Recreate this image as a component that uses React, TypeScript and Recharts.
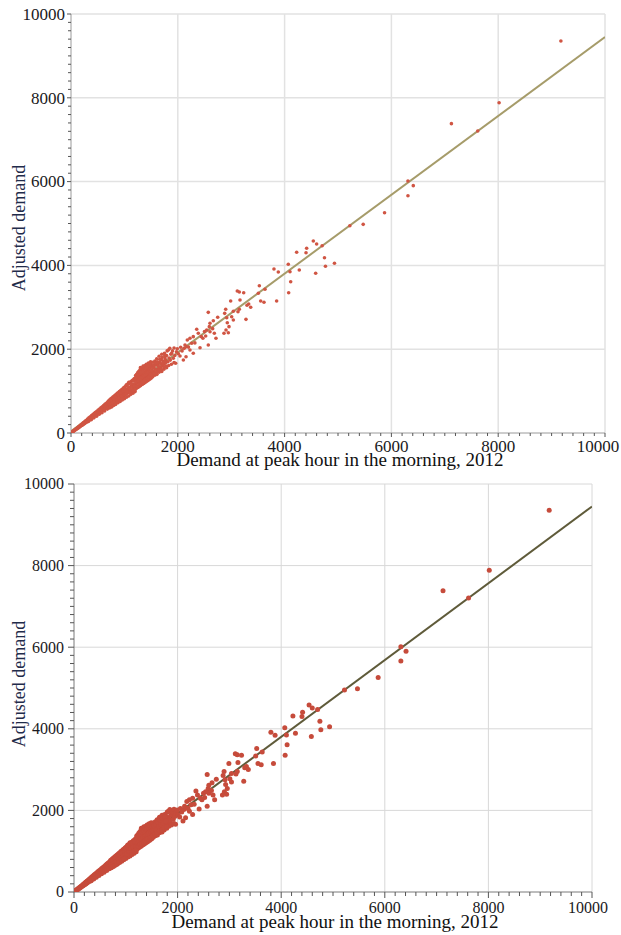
import { Label, ReferenceLine, Scatter, ScatterChart, XAxis, YAxis } from 'recharts'

const majorTicks = [0, 2000, 4000, 6000, 8000, 10000]
const minorStep = 200
const minorTicks = Array.from({ length: 51 }, (_, i) => i * minorStep)

const xTitle = 'Demand at peak hour in the morning, 2012'
const yTitle = 'Adjusted demand'

// [demand 2012, adjusted demand]
const originBand = [
  [15, 14], [25, 26], [30, 24], [40, 42], [50, 45], [55, 56], [65, 60], [75, 78], [80, 70], [90, 92],
  [100, 88], [105, 108], [115, 104], [125, 130], [130, 116], [140, 142], [150, 134], [155, 160], [165, 148],
  [175, 182], [180, 160], [190, 196], [200, 178], [205, 214], [215, 192], [225, 238], [230, 205], [240, 250],
  [250, 222], [255, 270], [265, 236], [275, 290], [280, 250], [290, 305], [300, 262],
  [310, 332], [335, 360], [360, 385], [385, 414], [410, 440], [435, 468], [460, 494], [485, 520], [510, 548],
  [535, 574], [560, 602], [585, 626], [610, 654], [635, 684], [660, 708], [685, 736],
  [320, 312], [345, 334], [370, 360], [395, 382], [420, 410], [445, 430], [470, 458], [495, 478], [520, 506],
  [545, 528], [570, 554], [595, 576], [620, 602], [645, 624], [670, 652], [695, 672],
  [315, 282], [340, 308], [365, 326], [390, 352], [415, 372], [440, 398], [465, 418], [490, 442], [515, 462],
  [540, 488], [565, 506], [590, 532], [615, 552], [640, 578], [665, 596], [690, 622],
  [330, 278], [380, 318], [430, 362], [480, 402], [530, 446], [580, 486], [630, 528], [680, 570],
]

const lowBand = [
  [705, 770], [725, 790], [745, 815], [765, 832], [785, 858], [805, 878], [825, 902], [845, 920], [865, 946],
  [885, 962], [905, 990], [925, 1006], [945, 1034], [965, 1050], [985, 1078], [1005, 1094], [1025, 1122],
  [1045, 1136], [1065, 1166], [1085, 1180], [1105, 1210], [1125, 1226], [1145, 1254], [1165, 1268], [1185, 1300],
  [710, 702], [730, 724], [750, 740], [770, 764], [790, 780], [810, 804], [830, 820], [850, 844], [870, 860],
  [890, 884], [910, 900], [930, 924], [950, 940], [970, 964], [990, 978], [1010, 1004], [1030, 1018],
  [1050, 1044], [1070, 1058], [1090, 1082], [1110, 1098], [1130, 1122], [1150, 1136], [1170, 1160], [1190, 1176],
  [715, 646], [735, 660], [755, 682], [775, 696], [795, 718], [815, 732], [835, 754], [855, 768], [875, 790],
  [895, 804], [915, 826], [935, 840], [955, 862], [975, 876], [995, 898], [1015, 912], [1035, 934], [1055, 948],
  [1075, 970], [1095, 984], [1115, 1006], [1135, 1020], [1155, 1042], [1175, 1056], [1195, 1078],
  [720, 596], [760, 622], [800, 660], [840, 690], [880, 724], [920, 752], [960, 790], [1000, 820], [1040, 856],
  [1080, 884], [1120, 922], [1160, 950], [1200, 988],
  [708, 735], [722, 672], [738, 620], [752, 775], [768, 708], [782, 650], [798, 812], [812, 745], [828, 680],
  [842, 860], [858, 790], [872, 735], [888, 905], [902, 830], [918, 775], [932, 955], [948, 875], [962, 810],
  [978, 1000], [992, 920],
]

const upperBand = [
  [1210, 1370], [1230, 1400], [1250, 1440], [1270, 1470], [1290, 1500], [1300, 1560], [1320, 1530],
  [1340, 1560], [1350, 1600], [1370, 1590], [1390, 1610], [1410, 1640], [1430, 1620], [1450, 1670],
  [1470, 1660], [1490, 1700],
  [1205, 1270], [1225, 1290], [1245, 1310], [1265, 1334], [1285, 1350], [1305, 1374], [1325, 1392],
  [1345, 1414], [1365, 1436], [1385, 1454], [1405, 1476], [1425, 1500], [1445, 1516], [1465, 1540], [1485, 1558],
  [1215, 1170], [1235, 1186], [1255, 1208], [1275, 1222], [1295, 1244], [1315, 1260], [1335, 1282],
  [1355, 1298], [1375, 1320], [1395, 1336], [1415, 1358], [1435, 1374], [1455, 1396], [1475, 1412], [1495, 1434],
  [1220, 1060], [1240, 1080], [1260, 1094], [1280, 1114], [1300, 1130], [1320, 1150], [1340, 1164],
  [1360, 1184], [1380, 1198], [1400, 1218], [1420, 1234], [1440, 1254], [1460, 1270], [1480, 1290], [1500, 1306],
  [1008, 1052], [1022, 936], [1038, 1150], [1052, 1000], [1068, 990], [1082, 1210], [1098, 1060], [1112, 960],
  [1128, 1180], [1142, 1098], [1158, 1005], [1172, 1250], [1188, 1118], [1202, 1040], [1218, 1330],
  [1228, 1232], [1242, 1120], [1258, 1382], [1262, 1250], [1278, 1170], [1288, 1420], [1298, 1290],
  [1312, 1190], [1318, 1458], [1328, 1330], [1342, 1222], [1348, 1500], [1362, 1360], [1372, 1250],
  [1378, 1530], [1392, 1392], [1402, 1282], [1408, 1560], [1418, 1420], [1432, 1300], [1438, 1590],
  [1448, 1452], [1462, 1330], [1468, 1610], [1478, 1480], [1492, 1350], [1498, 1640],
]

const upperTail = [
  [1510, 1600], [1520, 1420], [1530, 1690], [1545, 1470], [1555, 1560], [1570, 1720], [1580, 1450],
  [1590, 1620], [1605, 1770], [1615, 1500], [1625, 1650], [1640, 1540], [1650, 1830], [1660, 1690],
  [1675, 1560], [1690, 1750], [1700, 1880], [1710, 1600], [1725, 1720], [1740, 1640], [1750, 1900],
  [1760, 1790], [1775, 1680], [1790, 1850], [1800, 1960], [1815, 1700], [1823, 1981], [1835, 1790],
  [1850, 2020], [1860, 1740], [1870, 1880], [1885, 1902], [1900, 1960], [1916, 1783], [1930, 2030],
  [1945, 1850], [1960, 1663], [1975, 1940],
  [1530, 1340], [1570, 1380], [1610, 1400], [1650, 1450], [1700, 1470], [1740, 1520], [1790, 1560],
  [1830, 1610], [1880, 1640], [1930, 1680],
  [1512, 1500], [1522, 1380], [1535, 1560], [1548, 1620], [1562, 1420], [1575, 1660], [1588, 1520],
  [1602, 1460], [1618, 1700], [1632, 1600], [1648, 1500], [1662, 1760], [1678, 1650], [1692, 1520],
  [1705, 1800], [1722, 1680], [1738, 1580], [1755, 1840], [1770, 1740], [1785, 1600],
]

const scatterMid = [
  [1990, 2010], [2010, 1890], [2041, 1838], [2054, 2045], [2080, 1960], [2104, 1742], [2120, 2020],
  [2135, 2100], [2154, 1821], [2166, 2060], [2178, 2220], [2200, 2050], [2228, 2260], [2228, 1981],
  [2260, 2141], [2290, 2299], [2290, 1902], [2320, 2150], [2354, 2475], [2384, 2379], [2416, 2036],
  [2440, 2300], [2470, 2260], [2500, 2420], [2522, 2315], [2541, 2458], [2571, 2880], [2571, 2100],
  [2590, 2538], [2603, 2618], [2603, 2418], [2653, 2490], [2665, 2680], [2684, 2379], [2715, 2260],
  [2747, 2761], [2865, 2379], [2878, 2856], [2897, 2952], [2903, 2458], [2916, 2752], [2927, 2633],
  [2946, 2394], [2959, 2538], [2990, 3150], [3009, 2776], [3040, 2904], [3040, 2697], [3114, 3389],
  [3127, 2895], [3152, 3365], [3152, 2952], [3165, 3174], [3234, 3349], [3277, 2713], [3296, 3048],
  [3328, 3079], [3365, 3000],
]

const scatterHigh = [
  [3508, 3334], [3527, 3516], [3552, 3150], [3614, 3119], [3633, 3429], [3801, 3914], [3851, 3150],
  [3882, 3842], [4069, 4026], [4076, 3349], [4101, 3850], [4114, 3611], [4226, 4313], [4275, 3890],
  [4401, 4303], [4413, 4408], [4538, 4582], [4582, 3811], [4600, 4511], [4703, 4470], [4747, 4184],
  [4765, 3978], [4934, 4050], [5222, 4948], [5472, 4980], [5872, 5258], [6310, 6014], [6410, 5903],
  [6310, 5664], [7124, 7383], [7617, 7208], [8017, 7883], [9174, 9356],
]

const fitX = [0, 10000]
const fitY = [40, 9450]

const toPoints = (rows: number[][]) => rows.map(([x, y]) => ({ x, y }))
const demandData = [originBand, lowBand, upperBand, upperTail, scatterMid, scatterHigh].flatMap(toPoints)
const fitData = fitX.map((x, i) => ({ x, y: fitY[i] }))

const serif = '"Liberation Serif", "Times New Roman", serif'

type PanelProps = {
  height: number
  yAxisWidth: number
  right: number
  xAxisHeight: number
  tickFont: number
  xLabelGap: number
  yLabelGap: number
  lastShift: number
  majorLen: number
  minorLen: number
  axisColor: string
  gridColor: string
  gridWidth: number
  dotColor: string
  dotR: number
  fitColor: string
  xTitleBase: number
  yTitleShift: number
}

const DemandPanel = (p: PanelProps) => {
  const XTick = (t: any) => {
    const v = t.payload.value
    const major = majorTicks.includes(v)
    const shift = v === 10000 ? p.lastShift : 0
    return (
      <g>
        <line x1={t.x} x2={t.x} y1={t.y} y2={t.y + (major ? p.majorLen : p.minorLen)} stroke="#555" strokeWidth={1} />
        {major && (
          <text x={t.x + shift} y={t.y + p.xLabelGap} textAnchor="middle" fontFamily={serif} fontSize={p.tickFont} fill="#1a1a22">
            {v}
          </text>
        )}
      </g>
    )
  }

  const YTick = (t: any) => {
    const v = t.payload.value
    const major = majorTicks.includes(v)
    return (
      <g>
        <line x1={t.x} x2={t.x - (major ? p.majorLen : p.minorLen)} y1={t.y} y2={t.y} stroke="#555" strokeWidth={1} />
        {major && (
          <text x={t.x - p.yLabelGap} y={t.y + p.tickFont * 0.34} textAnchor="end" fontFamily={serif} fontSize={p.tickFont} fill="#1a1a22">
            {v}
          </text>
        )}
      </g>
    )
  }

  return (
    <ScatterChart width={621} height={p.height} margin={{ top: 14, right: p.right, left: 0, bottom: 0 }}>
      {majorTicks.slice(1).map((t) => (
        <ReferenceLine key={`gx${t}`} x={t} stroke={p.gridColor} strokeWidth={p.gridWidth} />
      ))}
      {majorTicks.slice(1).map((t) => (
        <ReferenceLine key={`gy${t}`} y={t} stroke={p.gridColor} strokeWidth={p.gridWidth} />
      ))}
      <XAxis
        type="number"
        dataKey="x"
        domain={[0, 10000]}
        ticks={minorTicks}
        interval={0}
        tickSize={0}
        tickMargin={0}
        tickLine={false}
        axisLine={{ stroke: p.axisColor, strokeWidth: 1 }}
        height={p.xAxisHeight}
        tick={(t: any) => <XTick {...t} />}
        allowDataOverflow
      >
        <Label
          content={({ viewBox }: any) => (
            <text
              x={viewBox.x + viewBox.width / 2 + 2}
              y={viewBox.y + p.xTitleBase}
              textAnchor="middle"
              fontFamily={serif}
              fontSize={19}
              fill="#111"
            >
              {xTitle}
            </text>
          )}
        />
      </XAxis>
      <YAxis
        type="number"
        dataKey="y"
        domain={[0, 10000]}
        ticks={minorTicks}
        interval={0}
        tickSize={0}
        tickMargin={0}
        tickLine={false}
        axisLine={{ stroke: p.axisColor, strokeWidth: 1 }}
        width={p.yAxisWidth}
        tick={(t: any) => <YTick {...t} />}
        allowDataOverflow
      >
        <Label
          content={({ viewBox }: any) => {
            const cx = 18.5
            const cy = viewBox.y + viewBox.height / 2 + p.yTitleShift
            return (
              <text
                x={cx}
                y={cy}
                transform={`rotate(-90 ${cx} ${cy})`}
                textAnchor="middle"
                dominantBaseline="central"
                fontFamily={serif}
                fontSize={18}
                fill="#1f2b4a"
              >
                {yTitle}
              </text>
            )
          }}
        />
      </YAxis>
      <Scatter
        data={fitData}
        line={{ stroke: p.fitColor, strokeWidth: 2 }}
        shape={() => <g />}
        legendType="none"
        isAnimationActive={false}
      />
      <Scatter
        data={demandData}
        shape={(s: any) => <circle cx={s.cx} cy={s.cy} r={p.dotR} fill={p.dotColor} />}
        isAnimationActive={false}
      />
    </ScatterChart>
  )
}

export default function App() {
  return (
    <div style={{ position: 'absolute', left: 0, top: 0, width: 621, height: 935, background: '#fff' }}>
      <DemandPanel
        height={470}
        yAxisWidth={71}
        right={16}
        xAxisHeight={37}
        tickFont={17}
        xLabelGap={19}
        yLabelGap={6}
        lastShift={-7}
        majorLen={4}
        minorLen={3}
        axisColor="#9a9a9a"
        gridColor="#e2e2e2"
        gridWidth={1.5}
        dotColor="#d05543"
        dotR={1.8}
        fitColor="#a69c6a"
        xTitleBase={33}
        yTitleShift={4.5}
      />
      <DemandPanel
        height={465}
        yAxisWidth={74}
        right={29}
        xAxisHeight={43}
        tickFont={16}
        xLabelGap={21}
        yLabelGap={10}
        lastShift={-4}
        majorLen={6}
        minorLen={4}
        axisColor="#7a7a7a"
        gridColor="#d8d8d8"
        gridWidth={1}
        dotColor="#c64b3b"
        dotR={2.5}
        fitColor="#5f5b3a"
        xTitleBase={36}
        yTitleShift={-4}
      />
    </div>
  )
}
